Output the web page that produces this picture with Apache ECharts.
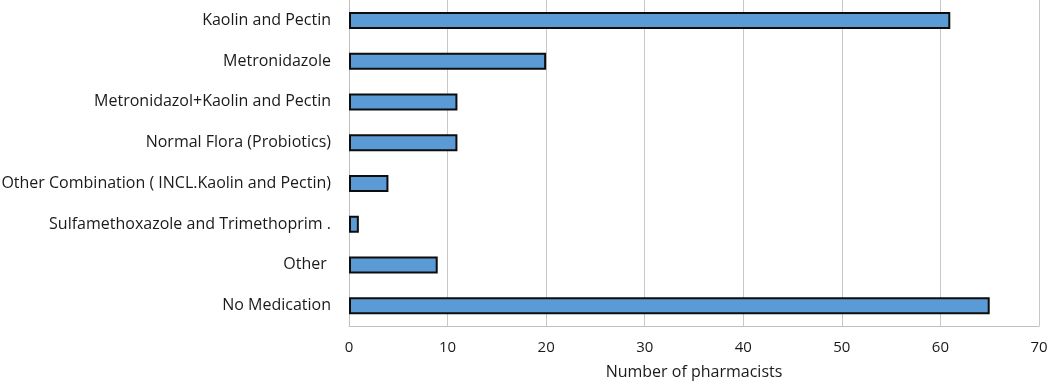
<!DOCTYPE html>
<html>
<head>
<meta charset="utf-8">
<script src="https://cdn.jsdelivr.net/npm/echarts@6/dist/echarts.min.js"></script>
<style>
    html,body{margin:0;padding:0;background:#fff;}
    #chart{width:1053px;height:383px;}
</style>
</head>
<body>
<div id="chart"></div>
<script>
// categories listed top to bottom as in the picture
let categories = [
    'Kaolin and Pectin',
    'Metronidazole',
    'Metronidazol+Kaolin and Pectin',
    'Normal Flora (Probiotics)',
    'Other Combination ( INCL.Kaolin and Pectin)',
    'Sulfamethoxazole and Trimethoprim .',
    'Other ',
    'No Medication'
];
let pharmacists = [61, 20, 11, 11, 4, 1, 9, 65];
let xTicks = [0, 70, 10];

let fontFamily = '"Open Sans", sans-serif';
let textColor = '#1a1a1a';

let chart = echarts.init(document.getElementById('chart'));
chart.setOption({
    animation:false,
    grid:{
        left:349,
        right:14,
        top:0,
        bottom:57,
        outerBoundsMode:'none'
    },
    xAxis:{
        type:'value',
        min:xTicks[0],
        max:xTicks[1],
        interval:xTicks[2],
        name:'Number of pharmacists',
        nameLocation:'middle',
        nameGap:38,
        nameTextStyle:{
            color:textColor,
            fontSize:16,
            fontFamily:fontFamily
        },
        axisLine:{
            show:true,
            lineStyle:{color:'#bfbfbf',width:1}
        },
        axisTick:{show:false},
        axisLabel:{
            color:textColor,
            fontSize:15,
            fontFamily:fontFamily,
            margin:14
        },
        splitLine:{
            show:true,
            lineStyle:{color:'#c8c8c8',width:1}
        }
    },
    yAxis:{
        type:'category',
        inverse:true,
        data:categories,
        axisLine:{
            show:true,
            lineStyle:{color:'#bfbfbf',width:1}
        },
        axisTick:{show:false},
        axisLabel:{
            color:textColor,
            fontSize:16,
            fontFamily:fontFamily,
            margin:18
        }
    },
    series:[{
        type:'bar',
        data:pharmacists,
        barWidth:17,
        itemStyle:{
            color:'#5b9bd5',
            borderColor:'#0d0d0d',
            borderWidth:2
        }
    }]
});
</script>
</body>
</html>
